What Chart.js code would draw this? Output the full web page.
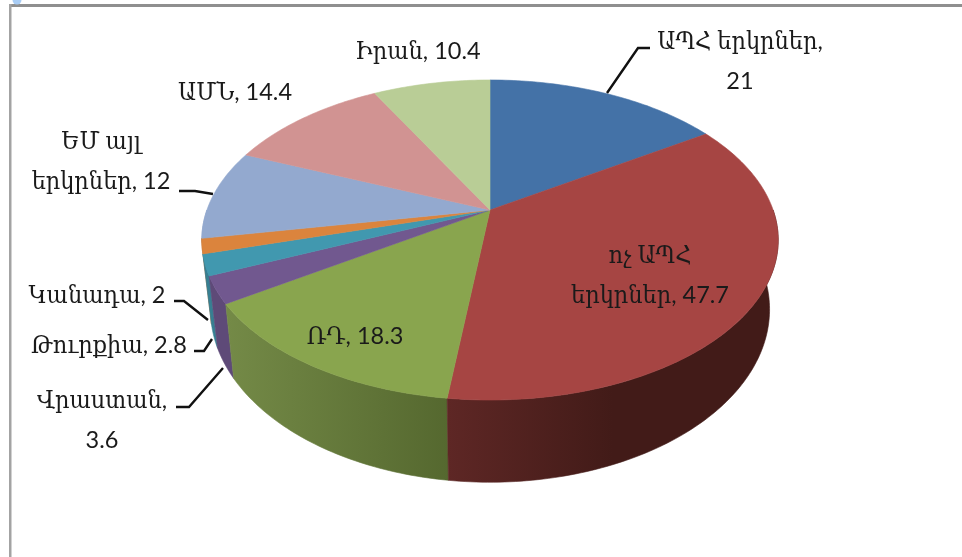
<!DOCTYPE html>
<html>
<head>
<meta charset="utf-8">
<style>
  html, body { margin: 0; padding: 0; background: #fff; }
  canvas { display: block; }
</style>
<script src="https://cdn.jsdelivr.net/npm/chart.js@4"></script>
</head>
<body>
<canvas id="myChart" width="962" height="557"></canvas>
<script>
// data
var categories = ['ԱՊՀ երկրներ', 'ոչ ԱՊՀ երկրներ', 'ՌԴ', 'Վրաստան', 'Թուրքիա', 'Կանադա', 'ԵՄ այլ երկրներ', 'ԱՄՆ', 'Իրան'];
var values = [21, 47.7, 18.3, 3.6, 2.8, 2, 12, 14.4, 10.4];

// styles
var topColors = ['#4472A7', '#A64543', '#89A54E', '#71588F', '#4198AF', '#DB843D', '#93A9CF', '#D19392', '#B9CD96'];
var wallLeft  = ['#4472A7', '#5E2725', '#748A47', '#5E4A78', '#377F92', '#B56C32', '#93A9CF', '#D19392', '#B9CD96'];
var wallRight = ['#4472A7', '#421B18', '#55682F', '#5E4A78', '#377F92', '#B56C32', '#93A9CF', '#D19392', '#B9CD96'];
var wallStop  = [1, 0.5, 1, 1, 1, 1, 1, 1, 1];

// label layout: words on first line, centre x, first baseline
var labelWords = [2, 2, 9, 1, 9, 9, 2, 9, 9];
var labelX = [740, 650, 355, 102, 109, 97, 101, 235, 418];
var labelY = [49, 263, 344, 408, 353, 303, 149, 100, 59];
var lineGap = 40;
var leaders = [
  [[607, 93], [638, 48], [650, 48]],
  [[179, 191], [195, 191], [213, 194]],
  [[174, 301], [184, 301], [208, 320]],
  [[194, 351], [204, 351], [212, 339]],
  [[176, 407], [189, 407], [223, 368]]
];
var armenianFont = '25px "DejaVu Serif Condensed", "DejaVu Serif"';
var digitFont = '23.5px Lato';

// tilt of the pie, relative to the radius of the arc
var tilt = { a: 1.49, b: 0.8126, k: 0.1875, depth: 67, wallA: 0.97, wallB: 1.08 };

function rimPoint(el, angle) {
  var u = Math.cos(angle), v = Math.sin(angle), s = 1 / (1 - tilt.k * v);
  return [el.x + el.outerRadius * tilt.a * u * s, el.y + el.outerRadius * tilt.b * v * s];
}
function floorPoint(el, angle) {
  var u = Math.cos(angle), v = Math.sin(angle), s = 1 / (1 - tilt.k * v);
  return [el.x + el.outerRadius * tilt.a * u * s * tilt.wallA,
          el.y + tilt.depth + el.outerRadius * tilt.b * v * s * tilt.wallB];
}

// arcs get drawn tilted
Chart.ArcElement.prototype.draw = function (ctx) {
  var steps = Math.max(2, Math.ceil((this.endAngle - this.startAngle) * 60));
  ctx.save();
  ctx.beginPath();
  ctx.moveTo(this.x, this.y);
  for (var i = 0; i <= steps; i++) {
    var p = rimPoint(this, this.startAngle + (this.endAngle - this.startAngle) * i / steps);
    ctx.lineTo(p[0], p[1]);
  }
  ctx.closePath();
  ctx.fillStyle = this.options.backgroundColor;
  ctx.strokeStyle = this.options.backgroundColor;
  ctx.lineWidth = 0.6;
  ctx.fill();
  ctx.stroke();
  ctx.restore();
};

var wallPlugin = {
  id: 'wall',
  beforeDatasetsDraw: function (chart) {
    var ctx = chart.ctx, arcs = chart.getDatasetMeta(0).data;
    for (var n = arcs.length - 1; n >= 0; n--) {
      var el = arcs[n];
      var from = Math.max(el.startAngle, 0), to = Math.min(el.endAngle, Math.PI);
      if (to <= from) continue;
      var top = [], low = [], steps = Math.ceil((to - from) * 60);
      for (var i = 0; i <= steps; i++) {
        var a = from + (to - from) * i / steps;
        top.push(rimPoint(el, a));
        low.push(floorPoint(el, a));
      }
      var pts = top.concat(low.reverse());
      var xs = pts.map(function (p) { return p[0]; });
      var grad = ctx.createLinearGradient(Math.min.apply(null, xs), 0, Math.max.apply(null, xs), 0);
      grad.addColorStop(0, wallLeft[n]);
      grad.addColorStop(wallStop[n], wallRight[n]);
      ctx.save();
      ctx.beginPath();
      pts.forEach(function (p, j) { j ? ctx.lineTo(p[0], p[1]) : ctx.moveTo(p[0], p[1]); });
      ctx.closePath();
      ctx.fillStyle = grad;
      ctx.strokeStyle = grad;
      ctx.lineWidth = 0.6;
      ctx.fill();
      ctx.stroke();
      ctx.restore();
    }
  }
};

// armenian and digits come from different fonts, so the line is drawn in runs
function drawMixed(ctx, text, cx, y) {
  var runs = text.match(/[\u0530-\u058F]+|[^\u0530-\u058F]+/g);
  var widths = runs.map(function (r) {
    ctx.font = /[\u0530-\u058F]/.test(r) ? armenianFont : digitFont;
    return ctx.measureText(r).width;
  });
  var x = cx - widths.reduce(function (a, b) { return a + b; }, 0) / 2;
  runs.forEach(function (r, i) {
    ctx.font = /[\u0530-\u058F]/.test(r) ? armenianFont : digitFont;
    ctx.fillText(r, x, y);
    x += widths[i];
  });
}

var labelPlugin = {
  id: 'sliceLabels',
  afterDatasetsDraw: function (chart) {
    var ctx = chart.ctx;
    ctx.save();
    ctx.strokeStyle = '#111';
    ctx.lineWidth = 2.4;
    leaders.forEach(function (line) {
      ctx.beginPath();
      line.forEach(function (p, i) { i ? ctx.lineTo(p[0], p[1]) : ctx.moveTo(p[0], p[1]); });
      ctx.stroke();
    });
    ctx.fillStyle = '#1a1a1a';
    ctx.textAlign = 'left';
    categories.forEach(function (cat, i) {
      var words = (cat + ', ' + values[i]).split(' ');
      var first = words.slice(0, labelWords[i]).join(' ');
      var rest = words.slice(labelWords[i]).join(' ');
      drawMixed(ctx, first, labelX[i], labelY[i]);
      if (rest) drawMixed(ctx, rest, labelX[i], labelY[i] + lineGap);
    });
    ctx.restore();
  }
};

// frame round the picture
var framePlugin = {
  id: 'frame',
  beforeDraw: function (chart) {
    var ctx = chart.ctx;
    ctx.save();
    ctx.fillStyle = '#8f8f8f';
    ctx.fillRect(9, 4, 953, 3);
    ctx.fillStyle = '#a3a3a3';
    ctx.fillRect(9, 4, 2.5, 553);
    ctx.fillStyle = '#A9CDF5';
    ctx.beginPath();
    ctx.arc(17, 0, 4.5, 0, Math.PI * 2);
    ctx.fill();
    ctx.restore();
  }
};

new Chart(document.getElementById('myChart').getContext('2d'), {
  type: 'pie',
  data: {
    labels: categories,
    datasets: [{ data: values, backgroundColor: topColors, borderWidth: 0 }]
  },
  options: {
    responsive: false,
    animation: false,
    devicePixelRatio: 1,
    layout: { padding: { left: 200, right: 182, top: 20, bottom: 157 } },
    plugins: { legend: { display: false }, tooltip: { enabled: false } }
  },
  plugins: [framePlugin, wallPlugin, labelPlugin]
});
</script>
</body>
</html>
